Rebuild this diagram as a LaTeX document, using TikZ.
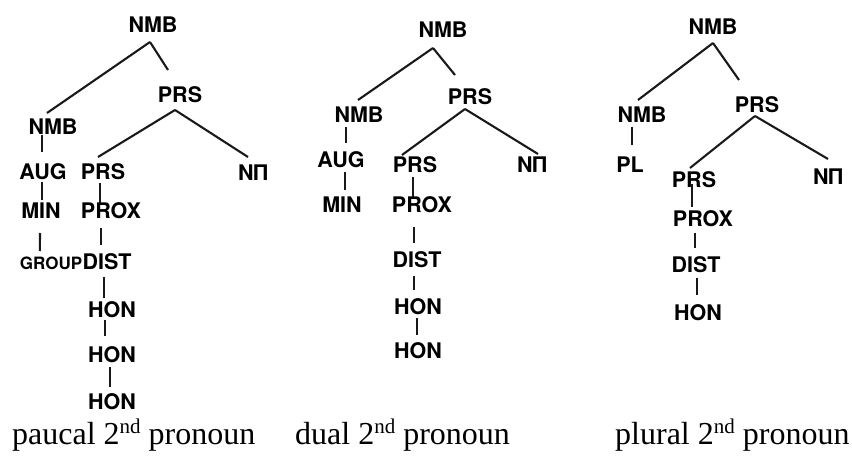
\documentclass[tikz,border=0pt]{standalone}
\usepackage{fontspec}
\setmainfont{Liberation Serif}
\setsansfont{TeX Gyre Heros}
\newcommand\ordsup[1]{\raisebox{11pt}{\fontsize{21}{21}\selectfont #1}}
\tikzset{
  tlab/.style={font=\fontsize{21.5}{25}\selectfont\sffamily\bfseries, inner sep=0pt, anchor=base},
  tsmall/.style={font=\fontsize{17}{20}\selectfont\sffamily\bfseries, inner sep=0pt, anchor=base east},
  captext/.style={font=\rmfamily\fontsize{32}{38}\selectfont, inner sep=0pt, anchor=base west},
  edge/.style={line width=2.1pt, black!90}
}
\begin{document}
\begin{tikzpicture}[x=1pt,y=-1pt]
\useasboundingbox (0,0) rectangle (852,457);
% ---------- tree 1 : paucal ----------
\node[tlab] (a1) at (153,33) {NMB};
\node[tlab] (b1) at (180,103) {PRS};
\node[tlab] (c1) at (53,135) {NMB};
\node[tlab] (d1) at (43,180) {AUG};
\node[tlab] (e1) at (103,180) {PRS};
\node[tlab] (f1) at (253,181) {NΠ};
\node[tlab] (g1) at (41,219) {MIN};
\node[tlab] (h1) at (111,219) {PROX};
\node[tlab] (j1) at (107,270) {DIST};
\node[tsmall] (i1) at (j1.base west) {GROUP};
\node[tlab] (k1) at (112,317) {HON};
\node[tlab] (l1) at (112,362) {HON};
\node[tlab] (m1) at (112,409) {HON};
\draw[edge] ([shift={(-3,9)}]a1.base) -- ([shift={(-6,-22)}]c1.base);
\draw[edge] ([shift={(-3,9)}]a1.base) -- ([shift={(-12,-33)}]b1.base);
\draw[edge] ([shift={(-5,7)}]b1.base) -- ([shift={(-5,-23)}]e1.base);
\draw[edge] ([shift={(-5,7)}]b1.base) -- ([shift={(-5,-24)}]f1.base);
\draw[edge] ([shift={(-11,0)}]c1.base) -- ([shift={(-1,-28)}]d1.base);
\draw[edge] ([shift={(-1,2)}]d1.base) -- ([shift={(1,-19)}]g1.base);
\draw[edge] ([shift={(-1,14)}]g1.base) -- ([shift={(-42.5,-19)}]i1.base east);
\draw[edge] ([shift={(-3,3)}]e1.base) -- ([shift={(-11,-16)}]h1.base);
\draw[edge] ([shift={(-10,9)}]h1.base) -- ([shift={(-6,-25)}]j1.base);
\draw[edge] ([shift={(-3,7)}]j1.base) -- ([shift={(-8,-19)}]k1.base);
\draw[edge] ([shift={(-7,3)}]k1.base) -- ([shift={(-7,-26)}]l1.base);
\draw[edge] ([shift={(-2,5)}]l1.base) -- ([shift={(-2,-22)}]m1.base);
% ---------- tree 2 : dual ----------
\node[tlab] (a2) at (443,38) {NMB};
\node[tlab] (b2) at (470,105) {PRS};
\node[tlab] (c2) at (359,123) {NMB};
\node[tlab] (d2) at (341,168) {AUG};
\node[tlab] (e2) at (415,173) {PRS};
\node[tlab] (f2) at (532,173) {NΠ};
\node[tlab] (g2) at (342,213) {MIN};
\node[tlab] (h2) at (422,213) {PROX};
\node[tlab] (j2) at (417,268) {DIST};
\node[tlab] (k2) at (418,315) {HON};
\node[tlab] (l2) at (418,358) {HON};
\draw[edge] ([shift={(-10,10)}]a2.base) -- ([shift={(-1,-23)}]c2.base);
\draw[edge] ([shift={(-10,10)}]a2.base) -- ([shift={(-15,-30)}]b2.base);
\draw[edge] ([shift={(-5,4)}]b2.base) -- ([shift={(-13,-18)}]e2.base);
\draw[edge] ([shift={(-5,4)}]b2.base) -- ([shift={(6,-19)}]f2.base);
\draw[edge] ([shift={(-13,4)}]c2.base) -- ([shift={(5,-25)}]d2.base);
\draw[edge] ([shift={(4,4)}]d2.base) -- ([shift={(3,-23)}]g2.base);
\draw[edge] ([shift={(-2,4)}]e2.base) -- ([shift={(-9,-16)}]h2.base);
\draw[edge] ([shift={(-8,14)}]h2.base) -- ([shift={(-3,-25)}]j2.base);
\draw[edge] ([shift={(-3,8)}]j2.base) -- ([shift={(-4,-25)}]k2.base);
\draw[edge] ([shift={(-1,3)}]k2.base) -- ([shift={(-1,-23)}]l2.base);
% ---------- tree 3 : plural ----------
\node[tlab] (a3) at (713,35) {NMB};
\node[tlab] (b3) at (757,113) {PRS};
\node[tlab] (c3) at (642,123) {NMB};
\node[tlab] (d3) at (630,173) {PL};
\node[tlab] (e3) at (694,188) {PRS};
\node[tlab] (f3) at (828,185) {NΠ};
\node[tlab] (h3) at (703,227) {PROX};
\node[tlab] (j3) at (696,273) {DIST};
\node[tlab] (k3) at (698,320) {HON};
\draw[edge] ([shift={(0,8)}]a3.base) -- ([shift={(-4,-23)}]c3.base);
\draw[edge] ([shift={(0,8)}]a3.base) -- ([shift={(-18,-33)}]b3.base);
\draw[edge] ([shift={(-2,3)}]b3.base) -- ([shift={(-4,-20)}]e3.base);
\draw[edge] ([shift={(-2,3)}]b3.base) -- ([shift={(0,-26)}]f3.base);
\draw[edge] ([shift={(-10,4)}]c3.base) -- ([shift={(2,-28)}]d3.base);
\draw[edge] ([shift={(-2,-4)}]e3.base) -- ([shift={(-11,-20)}]h3.base);
\draw[edge] ([shift={(-8,6)}]h3.base) -- ([shift={(-1,-25)}]j3.base);
\draw[edge] ([shift={(1,5)}]j3.base) -- ([shift={(-1,-25)}]k3.base);
% ---------- captions ----------
\node[captext] (cap1) at (12,444) {paucal 2\ordsup{nd} pronoun};
\node[captext] (cap2) at (295,444) {dual 2\ordsup{nd} pronoun};
\node[captext] (cap3) at (615,444) {plural 2\ordsup{nd} pronoun};
\end{tikzpicture}
\end{document}
